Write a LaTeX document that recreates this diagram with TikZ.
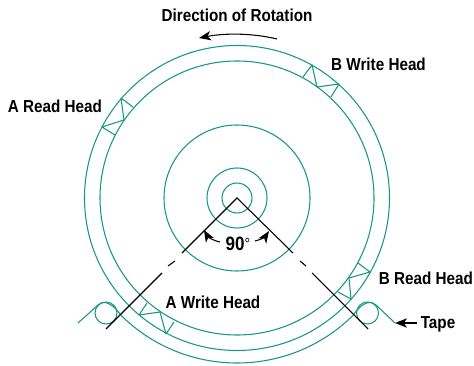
\documentclass[tikz,border=0pt]{standalone}
\usepackage{fontspec}
\setmainfont[FakeStretch=0.88]{Liberation Sans}
\usetikzlibrary{arrows.meta}
\definecolor{teal1}{HTML}{1A9686}
\tikzset{
  x=0.75pt,y=-0.75pt,
  ring/.style={draw=teal1,line width=0.8pt},
  headline/.style={draw=teal1,line width=0.8pt,line join=round},
  axis/.style={draw=black,line width=0.8pt},
  lab/.style={font=\bfseries\fontsize{13}{15}\selectfont,text=black,inner sep=0pt},
  ptr/.style={draw=black,line width=0.8pt,-{Stealth[length=9pt,width=7pt,inset=2.5pt]}}
}
\begin{document}
\begin{tikzpicture}
\useasboundingbox (0,0) rectangle (474,366);
\coordinate (C) at (237,198);
\foreach \r in {15,30,73,137,152.5}
  \draw[ring] (C) circle[radius=\r*0.75pt];
% rollers
\coordinate (RL) at (106,313);
\coordinate (RR) at (367.5,313);
\draw[ring] (RL) circle[radius=8.25pt];
\draw[ring] (RR) circle[radius=8.25pt];
% tape
\coordinate (TL) at (78,323);
\coordinate (TR) at (395,323);
\coordinate (TA) at (121.4,315.7);
\draw[ring,line join=round] (TL) -- (98,305) .. controls (102,301) and (110,300) .. (TA)
  arc[start angle=225.5,end angle=314.5,radius=123.75pt]
  .. controls (363.5,300) and (372,301) .. (376,305) -- (TR);
% heads
\draw[headline] (147,303)--(139,315)--(160,312)--(166,334)--(174,322);
\draw[headline] (358,263)--(370,272)--(349,278)--(351,299)--(338,292);
\draw[headline] (133,107)--(121,98)--(124,120)--(102,127)--(115,135);
\draw[headline] (303,77)--(312,65)--(317,87)--(339,84)--(331,97);
% axes
\draw[axis] (182,253)--(C)--(293,253);
\draw[axis] (168,266)--(175,261);
\draw[axis] (300,261)--(306,266);
\draw[axis] (162,273)--(106,329);
\draw[axis] (312,273)--(368,329);
% pointers
\coordinate (A1) at (220,242);\coordinate (A2) at (204,230);
\coordinate (B1) at (255,241);\coordinate (B2) at (269,231);
\draw[ptr] (A1) .. controls (214,241) and (208,237) .. (A2);
\draw[ptr] (B1) .. controls (260,240) and (265,237) .. (B2);
\coordinate (T1) at (417,323);
\draw[ptr] (T1) -- (TR);
\coordinate (D1) at (277,39);\coordinate (D2) at (199,38);
\draw[ptr] (D1) .. controls (252,33) and (225,33) .. (D2);
% labels
\node[lab] (dir) at (237,15) {Direction of Rotation};
\node[lab] (ar) at (55,106) {A Read Head};
\node[lab] (bw) at (378.5,64) {B Write Head};
\node[lab] (aw) at (213,302) {A Write Head};
\node[lab] (br) at (426,278) {B Read Head};
\node[lab] (tp) at (438,324) {Tape};
\node[lab,font=\bfseries\fontsize{14.5}{16}\selectfont] (ang) at (238,244) {90\raisebox{0.5pt}{\fontseries{m}\fontsize{12}{14}\selectfont°}};
\end{tikzpicture}
\end{document}
